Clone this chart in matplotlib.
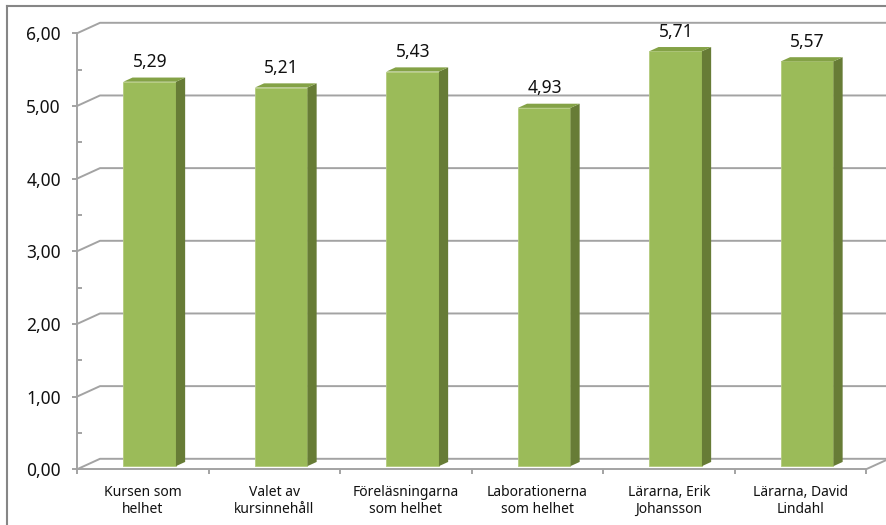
import matplotlib
matplotlib.use("Agg")
import matplotlib.pyplot as plt
from matplotlib.patches import Polygon
from matplotlib.lines import Line2D
from matplotlib.ticker import FuncFormatter, MultipleLocator, FixedLocator, NullFormatter

categories = ["Kursen som\nhelhet", "Valet av\nkursinnehåll", "Föreläsningarna\nsom helhet",
              "Laborationerna\nsom helhet", "Lärarna, Erik\nJohansson", "Lärarna, David\nLindahl"]
values = [5.29, 5.21, 5.43, 4.93, 5.71, 5.57]
value_labels = ["5,29", "5,21", "5,43", "4,93", "5,71", "5,57"]
yticks = [0, 1, 2, 3, 4, 5, 6]

plt.rcParams['font.family'] = ['Noto Sans', 'DejaVu Sans']

W, H = 886, 525
fig = plt.figure(figsize=(W / 100, H / 100), dpi=100)
fig.patch.set_facecolor("white")

x0, x1 = 77, 866
yb, yt = 469.3, 33.3
ax = fig.add_axes([x0 / W, (H - yb) / H, (x1 - x0) / W, (yb - yt) / H])
n = len(categories)
ax.set_xlim(0, n)
ax.set_ylim(0, 6)
ax.set_facecolor("none")

# depth offsets (full depth) in data units
DX = 23 / ((x1 - x0) / n)
DY = 10.5 / ((yb - yt) / 6)

grid_c = "#A3A3A3"
lw = 1.4

# back wall gridlines + side diagonals
for v in yticks:
    ax.plot([0, DX, n + DX], [v, v + DY, v + DY], color=grid_c, lw=lw,
            clip_on=False, zorder=1, solid_capstyle="butt")
# floor front edge right diagonal
ax.plot([n, n + DX], [0, DY], color=grid_c, lw=lw, clip_on=False, zorder=1)

# spines
for s in ["top", "right"]:
    ax.spines[s].set_visible(False)
for s in ["left", "bottom"]:
    ax.spines[s].set_color(grid_c)
    ax.spines[s].set_linewidth(lw)
    ax.spines[s].set_zorder(5)

# y ticks
ax.yaxis.set_major_locator(FixedLocator(yticks))
ax.yaxis.set_minor_locator(MultipleLocator(0.5))
ax.yaxis.set_major_formatter(FuncFormatter(lambda v, p: f"{v:.2f}".replace(".", ",")))
ax.tick_params(axis="y", which="major", direction="out", length=3.6, width=lw,
               color=grid_c, pad=8, labelsize=12.5, labelcolor="#111111")
ax.tick_params(axis="y", which="minor", direction="in", length=3.6, width=lw, color=grid_c)

# x ticks: boundaries with marks
ax.xaxis.set_major_locator(FixedLocator(list(range(n + 1))))
ax.xaxis.set_major_formatter(NullFormatter())
ax.tick_params(axis="x", which="major", direction="out", length=3.6, width=lw, color=grid_c)

# category labels centred under each category
for i, lab in enumerate(categories):
    ax.annotate(lab, (i + 0.5, 0), xycoords=("data", "axes fraction"),
                xytext=(0, -11.5), textcoords="offset points",
                ha="center", va="top", multialignment="center",
                fontsize=10, color="#111111", linespacing=1.15, annotation_clip=False)

front_c = "#9BBB59"
side_c = "#677C36"
top_c = "#84A246"

d0, d1 = 0.3, 0.7
bw = 0.4
xs = [i + 0.5 - bw / 2 + DX * d0 for i in range(n)]
ax.bar(xs, values, width=bw, bottom=DY * d0, align="edge", color=front_c,
       edgecolor="#B3CB7D", linewidth=0.6, zorder=3, clip_on=False)
dd = d1 - d0
for xl, v in zip(xs, values):
    xr = xl + bw
    yf0 = DY * d0
    yf1 = v + DY * d0
    side = Polygon([(xr, yf0), (xr + DX * dd, yf0 + DY * dd), (xr + DX * dd, yf1 + DY * dd), (xr, yf1)],
                   closed=True, facecolor=side_c, edgecolor="none", zorder=3, clip_on=False)
    top = Polygon([(xl, yf1), (xr, yf1), (xr + DX * dd, yf1 + DY * dd), (xl + DX * dd, yf1 + DY * dd)],
                  closed=True, facecolor=top_c, edgecolor="none", zorder=3, clip_on=False)
    ax.add_patch(side)
    ax.add_patch(top)

for i, (v, lab) in enumerate(zip(values, value_labels)):
    ax.annotate(lab, (i + 0.5 + DX * 0.32, v + DY * d1), xytext=(0, 4.5),
                textcoords="offset points", ha="center", va="bottom",
                fontsize=12.5, color="#111111", zorder=6, annotation_clip=False)

# outer frame (top and left edges visible)
fig.add_artist(Line2D([7 / W, 1], [1 - 6 / H, 1 - 6 / H], transform=fig.transFigure,
                      color="#868686", lw=1.5))
fig.add_artist(Line2D([7 / W, 7 / W], [0, 1 - 6 / H], transform=fig.transFigure,
                      color="#868686", lw=1.5))

fig.savefig("out.png", dpi=100, facecolor="white")
